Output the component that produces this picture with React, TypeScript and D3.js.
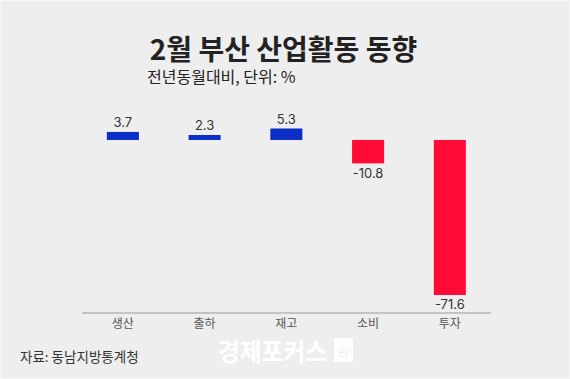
import React from "react";
import * as d3 from "d3";

const categories = ["생산", "출하", "재고", "소비", "투자"];
const values = [3.7, 2.3, 5.3, -10.8, -71.6];
const titleText = "2월 부산 산업활동 동향";
const subtitleText = "전년동월대비, 단위: %";
const sourceText = "자료: 동남지방통계청";
const watermarkText = "경제포커스";

const W = 570;
const H = 379;

export default function App() {
  const x = d3
    .scaleBand<string>()
    .domain(categories)
    .range([82, 490.7])
    .paddingInner(0.608)
    .paddingOuter(0.304);
  const y = d3.scaleLinear().domain([5.3, -71.6]).range([128.5, 295]);
  const y0 = y(0);
  const kr = "'Noto Sans CJK KR', 'Noto Sans', sans-serif";
  const num = "Inter, 'Noto Sans', sans-serif";

  return (
    <svg
      width={W}
      height={H}
      style={{ position: "absolute", left: 0, top: 0, display: "block" }}
    >
      <rect x={0} y={0} width={W} height={H} fill="#eeeeee" />
      <rect x={0.5} y={0.5} width={W - 1} height={H - 1} fill="none" stroke="#f6f6f6" />
      <text x={283.5} y={60} textAnchor="middle" fontFamily={kr} fontWeight={700} fontSize={28} fill="#222">
        {titleText}
      </text>
      <text x={147} y={83} fontFamily={kr} fontSize={16} fill="#222">
        {subtitleText}
      </text>
      {categories.map((c, i) => {
        const v = values[i];
        const top = v >= 0 ? y(v) : y0;
        const h = Math.abs(y(v) - y0);
        const bx = x(c)!;
        const cx = bx + x.bandwidth() / 2;
        return (
          <g key={c}>
            <rect x={bx} y={top} width={x.bandwidth()} height={h} fill={v >= 0 ? "#0a2ec6" : "#ff0b36"} />
            <text
              x={cx}
              y={v >= 0 ? y(v) - 4.5 : y(v) + 14.3}
              textAnchor="middle"
              fontFamily={num}
              fontSize={13}
              fill="#333"
            >
              {String(v)}
            </text>
            <text x={cx} y={327.5} textAnchor="middle" fontFamily={kr} fontSize={12} fill="#555">
              {c}
            </text>
          </g>
        );
      })}
      <line x1={82} x2={490.7} y1={313} y2={313} stroke="#9a9a9a" strokeWidth={1} />
      <text x={20} y={362} fontFamily={kr} fontSize={13.5} fill="#333">
        {sourceText}
      </text>
      <text
        x={218}
        y={361}
        fontFamily={kr}
        fontWeight={700}
        fontSize={25}
        fill="#ffffff"
        textLength={109}
        lengthAdjust="spacingAndGlyphs"
      >
        {watermarkText}
      </text>
      <rect x={334} y={338} width={19} height={24} fill="#ffffff" opacity={0.9} />
      <text x={343.5} y={357} textAnchor="middle" fontFamily={num} fontSize={11} fill="#eeeeee">
        Ei
      </text>
    </svg>
  );
}
